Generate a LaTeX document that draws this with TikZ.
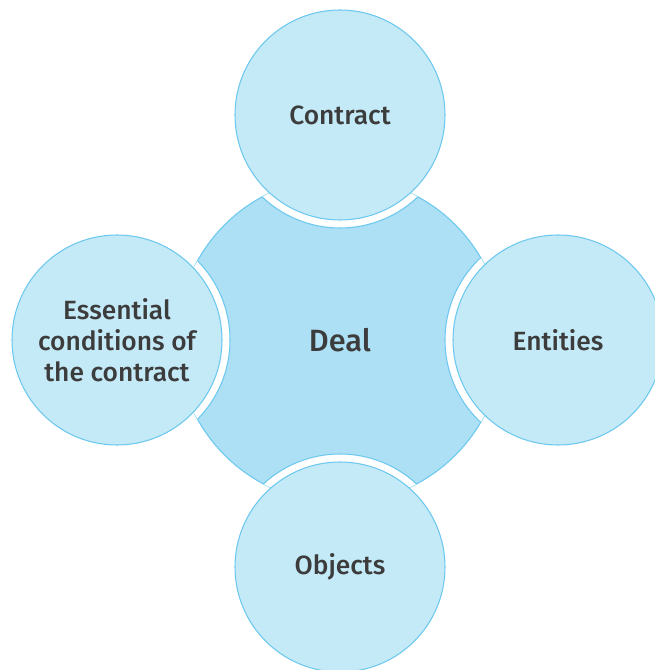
\documentclass[tikz,border=0pt]{standalone}
\usepackage{fontspec}
\setmainfont{Fira Sans}[UprightFont={* Medium}]
\definecolor{dealfill}{HTML}{ADE0F5}
\definecolor{partfill}{HTML}{C4E9F7}
\definecolor{rim}{HTML}{6CC8EE}
\definecolor{ink}{HTML}{3C3C3C}
\tikzset{
  part/.style={circle,draw=rim,fill=partfill,line width=0.6pt,minimum size=4.2cm,
    inner sep=0pt,text=ink,align=center,font=\fontsize{15}{17.6}\selectfont},
  hub/.style={circle,draw=rim,fill=dealfill,line width=0.6pt,minimum size=6.52cm,
    inner sep=0pt,text=ink,font=\fontsize{17.5}{20}\selectfont},
  gap/.style={draw=rim,fill=white,line width=0.6pt}
}
\begin{document}
\begin{tikzpicture}
        \useasboundingbox (-6.8,-6.6) rectangle (6.28,6.8);
        \coordinate (ptop) at (0,4.5);
        \coordinate (pleft) at (-4.46,0);
        \coordinate (pright) at (4.36,0);
        \coordinate (pbottom) at (0,-4.54);
        %centro
        \node[hub] (deal) at (0,0) {Deal};
        %tagli bianchi
        \begin{scope}
            \clip (deal.center) circle (3.26);
            \foreach \p in {ptop,pleft,pright,pbottom}
                \draw[gap] (\p) circle (2.26);
        \end{scope}
        %cerchi esterni
        \node[part] (contract) at (ptop) {Contract};
        \node[part] (conditions) at (pleft) {Essential\\conditions of\\the contract};
        \node[part] (entities) at (pright) {Entities};
        \node[part] (objects) at (pbottom) {Objects};
\end{tikzpicture}
\end{document}
